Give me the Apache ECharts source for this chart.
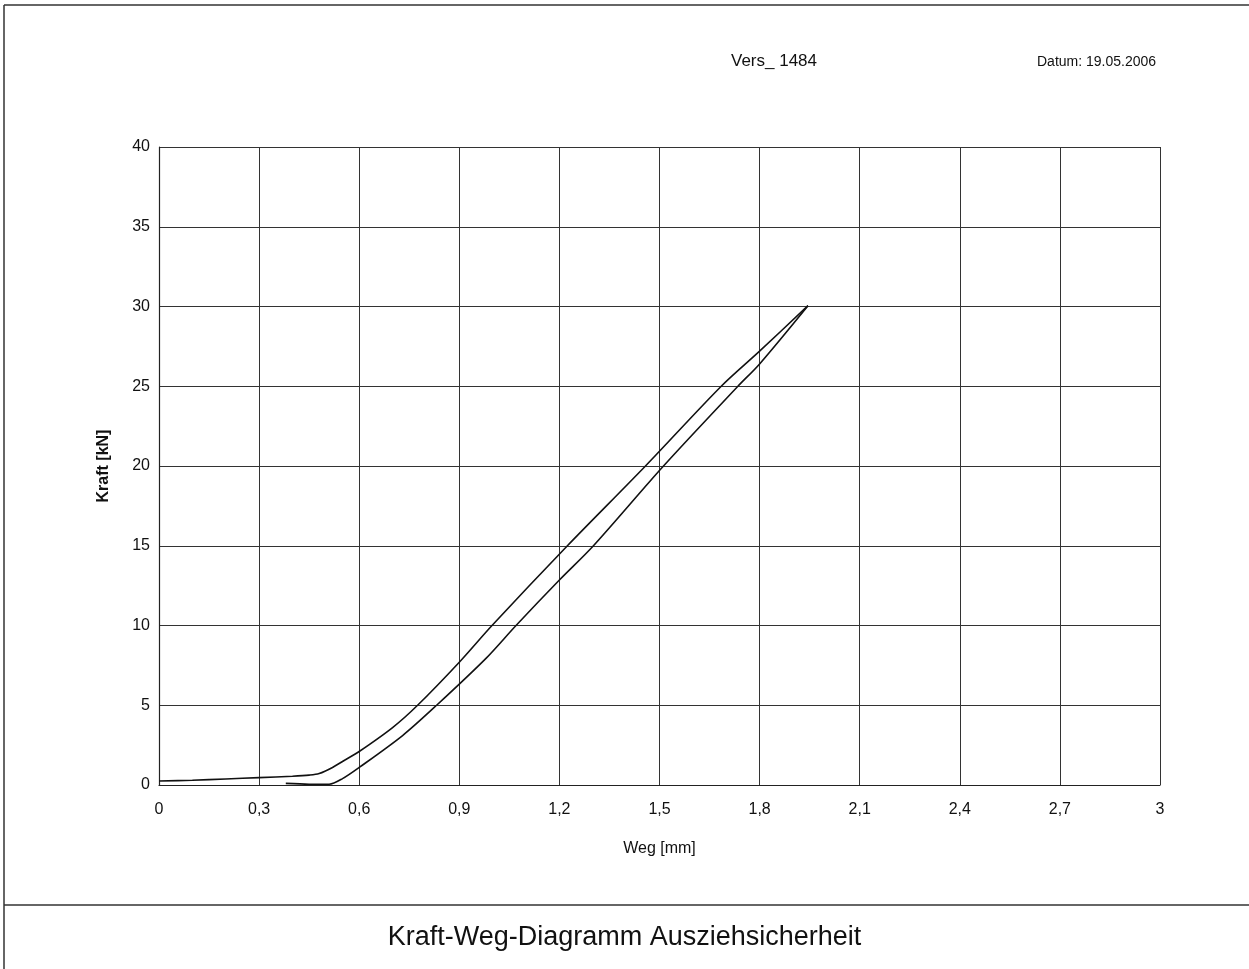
<!DOCTYPE html>
<html>
<head>
<meta charset="utf-8">
<script src="https://cdn.jsdelivr.net/npm/echarts@6/dist/echarts.min.js"></script>
<style>
    * { margin: 0; padding: 0; }
    body { background: #fff; }
    #main { width: 1249px; height: 969px; }
</style>
</head>
<body>
<div id="main"></div>
<script>
    // Weg [mm] / Kraft [kN]
    var belastungWeg   = [0, 0.1, 0.2, 0.3, 0.4, 0.45, 0.48, 0.52, 0.56, 0.6, 0.7, 0.775, 0.9, 0.998, 1.224, 1.458, 1.685, 1.8, 1.945];
    var belastungKraft = [0.25, 0.3, 0.38, 0.46, 0.55, 0.62, 0.72, 1.1, 1.6, 2.1, 3.6, 5.0, 7.7, 10, 15, 20, 25, 27.2, 30.05];

    var entlastungWeg   = [1.945, 1.8, 1.735, 1.512, 1.302, 1.2, 1.07, 0.98, 0.832, 0.73, 0.6, 0.55, 0.51, 0.45, 0.38];
    var entlastungKraft = [30.05, 26.4, 25, 20, 15, 12.85, 10, 7.94, 5.0, 3.1, 1.1, 0.4, 0.05, 0.05, 0.1];

    var xTicks = [0, 0.3, 0.6, 0.9, 1.2, 1.5, 1.8, 2.1, 2.4, 2.7, 3];
    var yTicks = [0, 5, 10, 15, 20, 25, 30, 35, 40];

    function paare(xs, ys) {
        return xs.map(function (x, i) { return [x, ys[i]]; });
    }
    function komma(v) {
        return String(Number(v.toFixed(2))).replace('.', ',');
    }

    var font = 'Liberation Sans, Arial, sans-serif';
    var myChart = echarts.init(document.getElementById('main'));
    var option = {
        backgroundColor: '#fff',
        animation: false,
        textStyle: { fontFamily: font },
        grid: { left: 159, right: 89, top: 147, bottom: 184 },
        xAxis: {
            type: 'value',
            min: xTicks[0],
            max: xTicks[xTicks.length - 1],
            interval: 0.3,
            name: 'Weg [mm]',
            nameLocation: 'middle',
            nameGap: 56,
            nameTextStyle: { color: '#111', fontSize: 16, fontFamily: font },
            axisLine: { lineStyle: { color: '#222', width: 1.2 } },
            axisTick: { show: false },
            axisLabel: { color: '#111', fontSize: 16, margin: 17, formatter: komma },
            splitLine: { show: true, lineStyle: { color: '#333', width: 1 } }
        },
        yAxis: {
            type: 'value',
            min: yTicks[0],
            max: yTicks[yTicks.length - 1],
            interval: 5,
            name: 'Kraft [kN]',
            nameLocation: 'middle',
            nameGap: 47,
            nameTextStyle: { color: '#111', fontSize: 16, fontWeight: 'bold', fontFamily: font },
            axisLine: { lineStyle: { color: '#222', width: 1.2 } },
            axisTick: { show: false },
            axisLabel: { color: '#111', fontSize: 16, margin: 9 },
            splitLine: { show: true, lineStyle: { color: '#333', width: 1 } }
        },
        series: [
            {
                type: 'line',
                name: 'Belastung',
                data: paare(belastungWeg, belastungKraft),
                smooth: 0.3,
                showSymbol: false,
                lineStyle: { color: '#111', width: 1.6 }
            },
            {
                type: 'line',
                name: 'Entlastung',
                data: paare(entlastungWeg, entlastungKraft),
                smooth: 0.3,
                showSymbol: false,
                lineStyle: { color: '#111', width: 1.6 }
            }
        ],
        graphic: [
            { type: 'line', shape: { x1: 4, y1: 5, x2: 1249, y2: 5 }, style: { stroke: '#333', lineWidth: 1.5 } },
            { type: 'line', shape: { x1: 4, y1: 5, x2: 4, y2: 969 }, style: { stroke: '#333', lineWidth: 1.5 } },
            { type: 'line', shape: { x1: 4, y1: 905, x2: 1249, y2: 905 }, style: { stroke: '#333', lineWidth: 1.5 } },
            { type: 'text', left: 731, top: 53, style: { text: 'Vers_ 1484', fontSize: 17, fill: '#111', fontFamily: font } },
            { type: 'text', left: 1037, top: 55, style: { text: 'Datum: 19.05.2006', fontSize: 14, fill: '#111', fontFamily: font } },
            { type: 'text', left: 'center', top: 924, style: { text: 'Kraft-Weg-Diagramm Ausziehsicherheit', fontSize: 27, fill: '#111', fontFamily: font } }
        ]
    };
    myChart.setOption(option);
</script>
</body>
</html>
